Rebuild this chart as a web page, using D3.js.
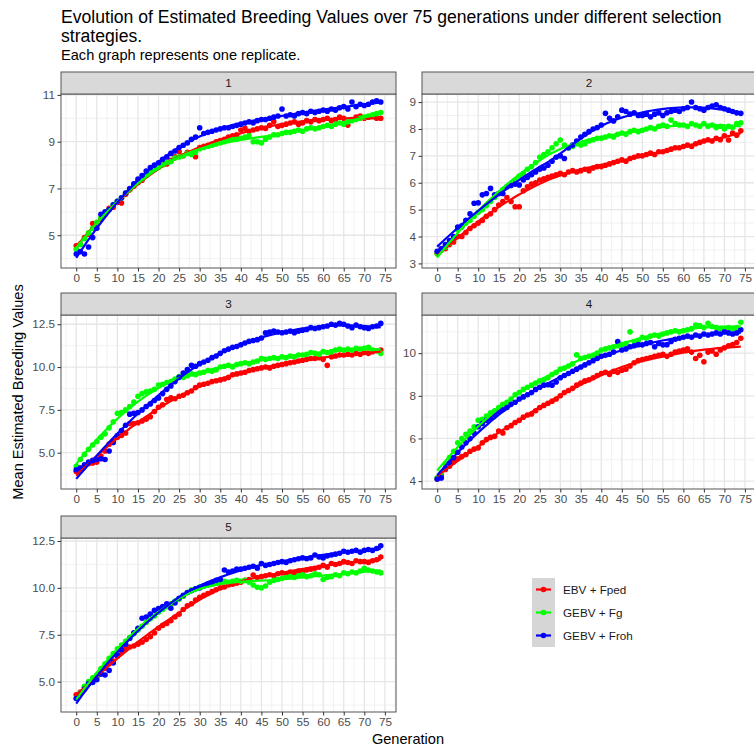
<!DOCTYPE html>
<html>
<head>
<meta charset="utf-8">
<script src="https://cdn.jsdelivr.net/npm/d3@7"></script>
<style>
  body { margin: 0; background: #fff; }
  svg { display: block; font-family: "Liberation Sans", Arial, sans-serif; }
</style>
</head>
<body>
<div id="chart"></div>
<script>
const width = 754, height = 749;

// generations 0..74
const generations = d3.range(0, 75);
const strategies = ["EBV + Fped", "GEBV + Fg", "GEBV + Froh"];
const colours = ["#ff0000", "#00ff00", "#0000ff"];
const replicates = ["1", "2", "3", "4", "5"];

// replicate 1
const fped1 = [4.55,4.62,4.9,5.05,5.5,5.45,5.7,5.9,6.15,6.2, 6.4,6.38,6.75,6.95,7.1,7.25,7.35,7.6,7.75,7.9,
  7.95,8.1,8.05,8.2,8.35,8.57,8.4,8.55,8.5,8.36, 8.75,8.8,8.85,8.9,9.0,9.05,9.1,9.2,9.25,9.3,
  9.5,9.57,9.45,9.5,9.55,9.6,9.57,9.7,9.86,9.65, 9.7,9.75,9.8,9.85,9.75,9.8,9.9,9.85,9.95,9.9,
  9.95,10.0,9.9,9.95,10.05,10.0,9.71,9.95,10.05,10.1, 10.0,10.05,10.1,10.0,10.0];
const fg1 = [4.4,4.6,4.85,5.1,5.3,5.55,5.75,5.95,6.1,6.3, 6.45,6.6,6.8,6.95,7.15,7.3,7.4,7.55,7.7,7.8,
  7.9,8.0,8.1,8.15,8.3,8.35,8.4,8.5,8.45,8.55, 8.7,8.75,8.8,8.85,8.9,8.95,9.0,9.05,9.1,9.1,
  9.15,9.2,9.25,9.0,9.0,8.95,9.1,9.2,9.3,9.3, 9.35,9.4,9.4,9.45,9.5,9.45,9.55,9.6,9.55,9.6,
  9.65,9.7,9.65,9.75,9.8,9.75,9.85,9.9,9.95,10.0, 10.05,10.1,10.15,10.2,10.25];
const froh1 = [4.2,4.3,4.2,4.5,4.9,5.3,5.9,6.0,6.1,6.3, 6.45,6.6,6.8,7.0,7.2,7.4,7.55,7.75,7.9,8.0,
  8.1,8.25,8.35,8.5,8.6,8.75,8.85,8.95,9.1,9.2, 9.6,9.35,9.4,9.45,9.5,9.55,9.6,9.6,9.65,9.7,
  9.75,9.8,9.85,9.8,9.9,9.95,9.95,10.0,10.05,10.1, 10.4,10.1,10.15,10.1,10.2,10.25,10.2,10.3,10.25,10.3,
  10.35,10.3,10.4,10.35,10.45,10.5,10.4,10.7,10.5,10.6, 10.55,10.6,10.7,10.75,10.7];

// replicate 2
const fped2 = [3.38,3.5,3.55,3.7,3.8,4.0,4.0,4.15,4.3,4.4, 4.5,4.6,4.75,4.85,5.0,5.17,5.3,5.45,5.3,5.11,
  5.11,5.7,5.85,5.95,6.0,6.1,6.15,6.2,6.25,6.3, 6.35,6.3,6.4,6.45,6.4,6.45,6.5,6.45,6.55,6.6,
  6.6,6.65,6.7,6.75,6.8,6.85,6.8,6.9,6.95,7.0, 7.0,7.05,7.1,7.05,7.15,7.15,7.2,7.25,7.3,7.3,
  7.35,7.4,7.35,7.45,7.5,7.55,7.6,7.55,7.65,7.6, 7.75,7.59,7.85,7.77,7.93];
const fg2 = [3.35,3.5,3.6,3.75,3.9,4.25,4.35,4.5,4.6,4.75, 4.9,5.0,5.15,5.3,5.45,5.6,5.75,5.85,5.95,6.1,
  6.25,6.35,6.5,6.6,6.75,6.95,7.05,7.15,7.3,7.45, 7.59,7.4,7.3,7.35,7.45,7.4,7.45,7.55,7.6,7.65,
  7.65,7.7,7.75,7.7,7.8,7.85,7.8,7.9,7.95,7.9, 7.95,8.0,8.05,8.0,8.1,8.15,8.1,8.33,8.2,8.15,
  8.15,8.1,8.2,8.15,8.1,8.2,8.1,8.15,8.05,8.1, 8.0,8.1,8.05,8.2,8.23];
const froh2 = [3.45,3.55,3.7,3.85,4.0,4.35,4.4,4.6,4.85,5.24, 5.25,5.55,5.6,5.79,5.55,5.6,5.6,5.85,5.9,5.95,
  5.92,6.1,6.2,6.3,6.4,6.5,6.55,6.65,6.8,6.95, 7.0,6.9,7.3,7.4,7.55,7.7,7.8,7.9,8.0,8.05,
  8.15,8.58,8.4,8.3,8.45,8.7,8.65,8.55,8.6,8.5, 8.5,8.55,8.45,8.55,8.6,8.5,8.6,8.65,8.7,8.65,
  8.75,8.8,9.0,8.8,8.75,8.7,8.8,8.85,8.9,8.8, 8.75,8.7,8.65,8.6,8.58];

// replicate 3
const fped3 = [3.9,4.1,4.2,4.35,4.4,4.45,4.8,5.1,5.5,5.7, 5.9,6.0,6.15,6.7,6.7,6.75,6.85,6.95,7.1,7.4,
  7.65,7.8,8.1,8.2,8.15,8.3,8.35,8.5,8.6,8.8, 8.95,9.0,9.05,9.15,9.2,9.25,9.3,9.4,9.55,9.6,
  9.65,9.7,9.8,9.85,9.9,9.95,10.0,9.95,10.05,10.1, 10.15,10.2,10.25,10.3,10.35,10.4,10.45,10.5,10.5,10.55,
  10.45,10.1,10.6,10.65,10.7,10.7,10.75,10.7,10.8,10.75, 10.85,10.8,10.9,10.95,11.0];
const fg3 = [4.2,4.6,4.9,5.2,5.45,5.65,5.9,6.1,6.45,6.8, 7.3,7.35,7.5,7.7,7.95,8.3,8.45,8.55,8.6,8.7,
  8.95,9.0,9.1,9.15,9.3,9.45,9.4,9.5,9.6,9.55, 9.65,9.7,9.8,9.75,9.85,10.0,10.05,10.1,10.0,10.15,
  10.2,10.25,10.2,10.3,10.35,10.5,10.45,10.5,10.55,10.5, 10.6,10.55,10.65,10.6,10.7,10.7,10.75,10.85,10.8,10.75,
  10.9,10.85,10.9,11.0,11.05,11.0,11.05,11.0,11.1,11.05, 11.1,11.15,11.0,10.95,10.8];
const froh3 = [4.0,4.1,4.3,4.45,4.55,4.6,4.65,4.6,5.1,5.6, 6.0,6.3,6.6,7.25,7.3,7.35,7.5,7.7,7.85,8.05,
  8.2,8.45,8.7,8.9,9.15,9.4,9.65,9.85,10.1,10.05, 10.2,10.3,10.4,10.55,10.65,10.8,10.95,11.05,11.15,11.2,
  11.3,11.4,11.5,11.55,11.6,11.7,12.0,12.05,12.1,12.05, 12.0,12.05,12.1,12.0,12.1,12.15,12.2,12.3,12.25,12.3,
  12.35,12.4,12.5,12.45,12.55,12.5,12.4,12.3,12.45,12.35, 12.3,12.25,12.35,12.4,12.55];

// replicate 4
const fped4 = [4.1,4.3,4.55,4.7,4.9,5.05,5.15,5.25,5.4,5.5, 5.56,5.8,5.95,6.05,6.1,6.35,6.26,6.5,6.6,6.75,
  6.85,7.0,7.1,7.15,7.3,7.45,7.55,7.65,7.75,7.85, 8.0,8.15,8.25,8.35,8.5,8.6,8.7,8.75,8.85,8.95,
  9.05,9.1,9.0,9.15,9.1,9.2,9.25,9.4,9.55,9.65, 9.7,9.75,9.8,9.85,9.9,9.95,9.85,9.95,10.05,10.1,
  10.15,10.2,10.05,9.75,9.9,9.6,10.05,10.1,9.95,10.15, 10.25,10.35,10.4,10.5,10.7];
const fg4 = [4.15,4.4,4.8,5.1,5.4,5.8,6.0,6.2,6.35,6.55, 6.85,6.9,7.05,7.2,7.3,7.45,7.6,7.7,7.85,8.05,
  8.15,8.3,8.4,8.5,8.6,8.7,8.75,8.85,9.0,9.1, 9.25,9.3,9.4,9.5,9.92,9.75,9.8,9.85,9.9,10.0,
  10.15,10.2,10.25,10.3,10.35,10.4,10.45,11.0,10.55,10.6, 10.75,10.7,10.8,10.85,10.8,10.9,10.95,11.0,11.05,11.0,
  11.05,11.1,11.15,11.32,11.3,11.2,11.4,11.25,11.2,11.15, 11.1,11.2,11.15,11.2,11.45];
const froh4 = [4.1,4.15,4.6,4.85,5.1,5.35,5.6,5.8,6.0,6.25, 6.55,6.7,6.85,6.95,7.1,7.25,7.35,7.45,7.6,7.7,
  7.85,7.95,8.05,8.15,8.3,8.4,8.5,8.52,8.5,8.65, 8.85,8.95,9.05,9.15,9.25,9.35,9.45,9.55,9.65,9.75,
  9.85,9.9,9.95,10.05,10.54,10.15,10.2,10.3,10.35,10.4, 10.39,10.45,10.5,10.3,10.45,10.39,10.4,10.55,10.65,10.7,
  10.75,10.8,10.75,10.85,10.8,10.9,10.85,10.9,10.95,10.9, 11.0,10.95,10.9,10.95,11.1];

// replicate 5
const fped5 = [4.3,4.45,4.7,4.9,5.05,5.25,5.45,5.7,5.95,6.1, 6.35,6.55,6.75,6.85,6.9,7.0,7.1,7.25,7.4,7.6,
  7.85,8.0,8.1,8.25,8.45,8.6,8.85,9.05,9.15,9.35, 9.5,9.6,9.7,9.8,9.9,10.0,10.05,10.15,10.2,10.25,
  10.3,10.4,10.45,10.69,10.55,10.6,10.65,10.7,10.65,10.75, 10.8,10.75,10.85,10.8,10.9,10.85,10.95,11.0,11.05,11.1,
  11.2,11.1,11.3,11.25,11.3,11.4,11.35,11.3,11.45,11.4, 11.4,11.35,11.45,11.5,11.65];
const fg5 = [4.1,4.4,4.75,5.0,5.2,5.35,5.7,5.95,6.25,6.5, 6.75,6.95,7.15,7.35,7.55,7.75,7.95,8.15,8.35,8.5,
  8.7,8.85,9.0,9.15,9.3,9.4,9.55,9.75,9.9,9.95, 10.05,10.1,10.15,10.2,10.25,10.3,10.35,10.3,10.35,10.4,
  10.35,10.4,10.3,10.15,10.03,10.0,10.1,10.3,10.4,10.45, 10.5,10.55,10.6,10.55,10.65,10.7,10.6,10.65,10.75,10.7,
  10.45,10.55,10.6,10.7,10.65,10.8,10.75,10.85,10.8,10.9, 11.05,10.95,10.9,10.85,10.8];
const froh5 = [4.1,4.35,4.6,4.9,4.95,5.1,5.4,5.35,5.6,6.0, 6.4,6.7,7.0,7.3,7.6,7.85,8.38,8.45,8.6,8.8,
  8.9,9.0,9.15,8.91,9.2,9.45,9.6,9.75,9.85,9.95, 10.0,10.1,10.2,10.3,10.4,10.45,10.95,10.85,10.9,11.0,
  11.0,11.05,11.1,11.15,11.05,11.3,11.2,11.25,11.3,11.35, 11.4,11.35,11.45,11.5,11.55,11.6,11.55,11.6,11.75,11.65,
  11.6,11.7,11.75,11.8,11.85,11.95,11.9,11.95,12.0,11.9, 12.0,12.05,12.0,12.1,12.25];

const seriesByReplicate = [
  [fped1, fg1, froh1],
  [fped2, fg2, froh2],
  [fped3, fg3, froh3],
  [fped4, fg4, froh4],
  [fped5, fg5, froh5]
];

const xTicks = [0,5,10,15,20,25,30,35,40,45,50,55,60,65,70,75];
const xLimits = [-3.7, 77.7];
const yTicks = [[5,7,9,11], [3,4,5,6,7,8,9], [5,7.5,10,12.5], [4,6,8,10], [5,7.5,10,12.5]];
const yTickLabels = [["5","7","9","11"], ["3","4","5","6","7","8","9"],
  ["5.0","7.5","10.0","12.5"], ["4","6","8","10"], ["5.0","7.5","10.0","12.5"]];
const yLimits = [[3.6, 11.04], [2.83, 9.30], [2.88, 13.04], [3.63, 11.79], [3.38, 12.66]];

// layout
const colX = [[61, 396], [422, 756]];
const rowTop = [72, 293, 516];
const stripH = 22, panelH = 174;
const tickFont = 11.7;

const svg = d3.select("#chart").append("svg")
  .attr("width", width).attr("height", height)
  .attr("viewBox", [0, 0, width, height]);

svg.append("text").attr("x", 61).attr("y", 23)
  .attr("font-size", 17.6).attr("fill", "#000")
  .text("Evolution of Estimated Breeding Values over 75 generations under different selection");
svg.append("text").attr("x", 61).attr("y", 42)
  .attr("font-size", 17.6).attr("fill", "#000")
  .text("strategies.");
svg.append("text").attr("x", 61).attr("y", 60)
  .attr("font-size", 14.6).attr("fill", "#000")
  .text("Each graph represents one replicate.");

// loess, degree 2, tricube weights (ggplot default)
function loess(xs, ys, span = 0.75, nOut = 80) {
  const n = xs.length, q = Math.floor(n * span);
  const lo = d3.min(xs), hi = d3.max(xs);
  return d3.range(nOut).map(i => {
    const x0 = lo + (hi - lo) * i / (nOut - 1);
    const dmax = d3.sort(xs.map(x => Math.abs(x - x0)))[q - 1];
    const S = [0,0,0,0,0], T = [0,0,0];
    xs.forEach((x, j) => {
      const r = Math.abs(x - x0) / dmax;
      if (r >= 1) return;
      const w = Math.pow(1 - r * r * r, 3), u = x - x0;
      let p = w;
      for (let k = 0; k < 5; k++) { S[k] += p; if (k < 3) T[k] += p * ys[j]; p *= u; }
    });
    const det3 = (a) => a[0][0]*(a[1][1]*a[2][2]-a[1][2]*a[2][1])
      - a[0][1]*(a[1][0]*a[2][2]-a[1][2]*a[2][0]) + a[0][2]*(a[1][0]*a[2][1]-a[1][1]*a[2][0]);
    const M = [[S[0],S[1],S[2]],[S[1],S[2],S[3]],[S[2],S[3],S[4]]];
    const M0 = [[T[0],S[1],S[2]],[T[1],S[2],S[3]],[T[2],S[3],S[4]]];
    return [x0, det3(M0) / det3(M)];
  });
}

function minorBreaks(major, lim) {
  const step = major[1] - major[0];
  const out = [];
  for (let v = major[0] - step / 2; v <= major[major.length - 1] + step / 2 + 1e-9; v += step) {
    if (v >= lim[0] && v <= lim[1]) out.push(v);
  }
  return out;
}

replicates.forEach((rep, p) => {
  const col = p % 2, row = Math.floor(p / 2);
  const [x0, x1] = colX[col];
  const top = rowTop[row] + stripH, bottom = top + panelH;

  const x = d3.scaleLinear().domain(xLimits).range([x0, x1]);
  const y = d3.scaleLinear().domain(yLimits[p]).range([bottom, top]);

  const g = svg.append("g");
  const clipId = "clip" + p;
  g.append("clipPath").attr("id", clipId)
    .append("rect").attr("x", x0).attr("y", top).attr("width", x1 - x0).attr("height", panelH);

  // grid
  const grid = g.append("g");
  grid.selectAll(".xmin").data(minorBreaks(xTicks, xLimits)).join("line")
    .attr("x1", d => x(d)).attr("x2", d => x(d)).attr("y1", top).attr("y2", bottom)
    .attr("stroke", "#ebebeb").attr("stroke-width", 0.7);
  grid.selectAll(".ymin").data(minorBreaks(yTicks[p], yLimits[p])).join("line")
    .attr("x1", x0).attr("x2", x1).attr("y1", d => y(d)).attr("y2", d => y(d))
    .attr("stroke", "#ebebeb").attr("stroke-width", 0.7);
  grid.selectAll(".xmaj").data(xTicks).join("line")
    .attr("x1", d => x(d)).attr("x2", d => x(d)).attr("y1", top).attr("y2", bottom)
    .attr("stroke", "#e6e6e6").attr("stroke-width", 1.3);
  grid.selectAll(".ymaj").data(yTicks[p]).join("line")
    .attr("x1", x0).attr("x2", x1).attr("y1", d => y(d)).attr("y2", d => y(d))
    .attr("stroke", "#e6e6e6").attr("stroke-width", 1.3);

  // points then smooth lines
  const marks = g.append("g").attr("clip-path", `url(#${clipId})`);
  seriesByReplicate[p].forEach((vals, s) => {
    marks.append("g").selectAll("circle").data(vals).join("circle")
      .attr("cx", (d, i) => x(generations[i]))
      .attr("cy", d => y(d))
      .attr("r", 2.8)
      .attr("fill", colours[s]);
  });
  const line = d3.line().x(d => x(d[0])).y(d => y(d[1]));
  seriesByReplicate[p].forEach((vals, s) => {
    marks.append("path")
      .attr("d", line(loess(generations, vals)))
      .attr("fill", "none")
      .attr("stroke", colours[s])
      .attr("stroke-width", 2.2);
  });

  // border
  g.append("rect").attr("x", x0).attr("y", top).attr("width", x1 - x0).attr("height", panelH)
    .attr("fill", "none").attr("stroke", "#555").attr("stroke-width", 1);

  // strip
  g.append("rect").attr("x", x0).attr("y", rowTop[row]).attr("width", x1 - x0).attr("height", stripH)
    .attr("fill", "#d9d9d9").attr("stroke", "#555").attr("stroke-width", 1);
  g.append("text").attr("x", (x0 + x1) / 2).attr("y", rowTop[row] + stripH / 2 + 4)
    .attr("text-anchor", "middle").attr("font-size", tickFont).attr("fill", "#1a1a1a")
    .text(rep);

  // axes
  const yAxis = d3.axisLeft(y).tickValues(yTicks[p])
    .tickFormat((d, i) => yTickLabels[p][i]).tickSize(3.5).tickPadding(2.5);
  const ya = g.append("g").attr("transform", `translate(${x0},0)`).call(yAxis);
  ya.select(".domain").remove();
  ya.selectAll(".tick line").attr("stroke", "#333");
  ya.selectAll(".tick text").attr("fill", "#4d4d4d").attr("font-size", tickFont)
    .attr("font-family", "Liberation Sans, Arial, sans-serif");

  const xAxis = d3.axisBottom(x).tickValues(xTicks).tickSize(3.5).tickPadding(2);
  const xa = g.append("g").attr("transform", `translate(0,${bottom})`).call(xAxis);
  xa.select(".domain").remove();
  xa.selectAll(".tick line").attr("stroke", "#333");
  xa.selectAll(".tick text").attr("fill", "#4d4d4d").attr("font-size", tickFont)
    .attr("font-family", "Liberation Sans, Arial, sans-serif");
});

// axis titles
svg.append("text")
  .attr("transform", "translate(23,392) rotate(-90)")
  .attr("text-anchor", "middle").attr("font-size", 14.6).attr("fill", "#000")
  .text("Mean Estimated Breeding Values");
svg.append("text")
  .attr("x", 408).attr("y", 744)
  .attr("text-anchor", "middle").attr("font-size", 14.6).attr("fill", "#000")
  .text("Generation");

// legend
const legend = svg.append("g").attr("transform", "translate(532,578)");
strategies.forEach((name, i) => {
  const row = legend.append("g").attr("transform", `translate(0,${i * 23})`);
  row.append("rect").attr("width", 23).attr("height", 23).attr("fill", "#d6d6d6");
  row.append("line").attr("x1", 4).attr("x2", 19).attr("y1", 11.5).attr("y2", 11.5)
    .attr("stroke", colours[i]).attr("stroke-width", 2.2);
  row.append("circle").attr("cx", 11.5).attr("cy", 11.5).attr("r", 2.8).attr("fill", colours[i]);
  row.append("text").attr("x", 31).attr("y", 15.8)
    .attr("font-size", tickFont).attr("fill", "#1a1a1a").text(name);
});
</script>
</body>
</html>
